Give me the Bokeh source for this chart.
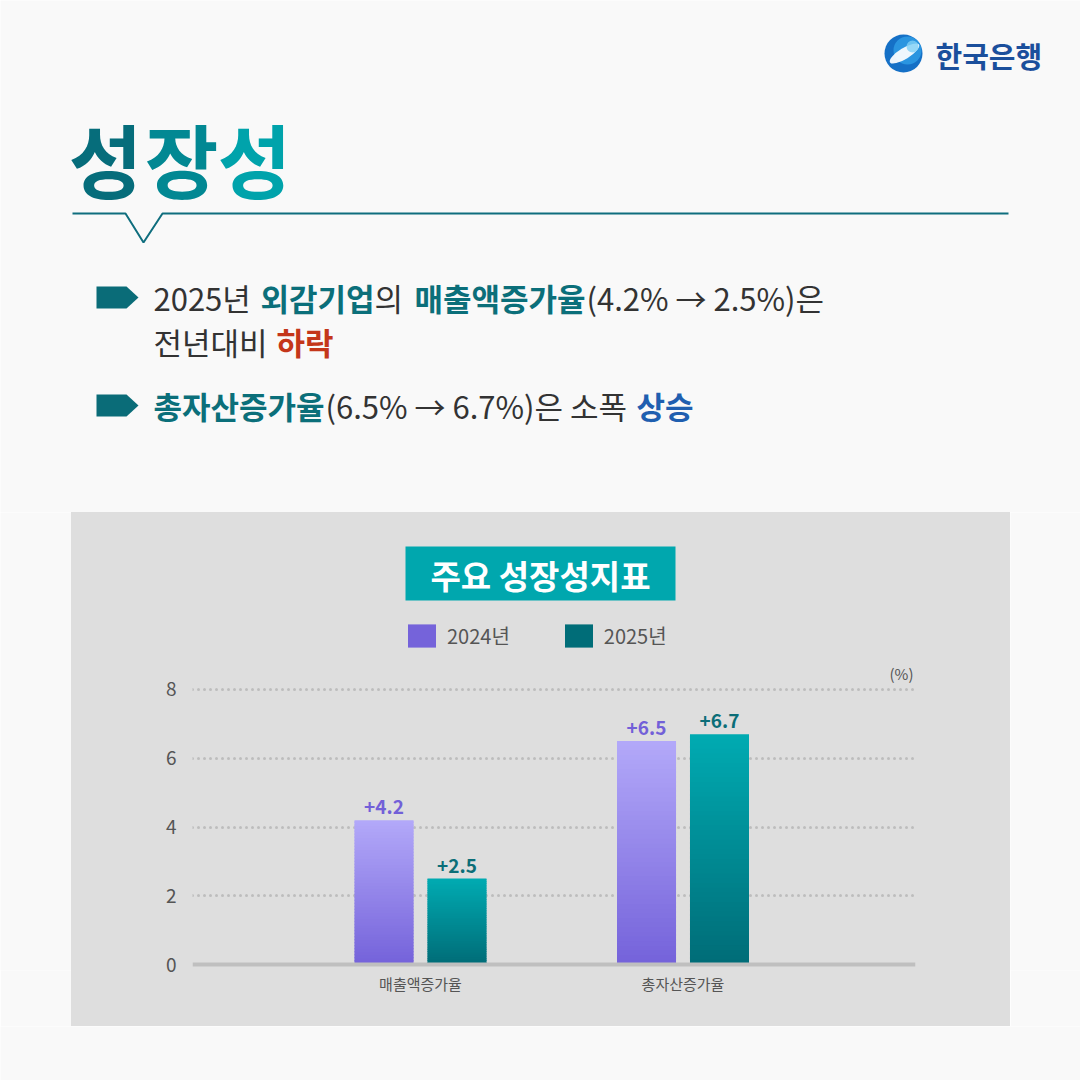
import numpy as np
from bokeh.plotting import figure
from bokeh.layouts import column, row
from bokeh.models import Range1d, FixedTicker, Span, Legend, LegendItem
from bokeh.core.properties import value
from bokeh.embed import file_html
from bokeh.resources import INLINE
from bokeh.core.validation import silence
from bokeh.core.validation.warnings import MISSING_RENDERERS

silence(MISSING_RENDERERS, True)

# ---------------- data ----------------
categories = ["매출액증가율", "총자산증가율"]
series_names = ["2024년", "2025년"]
values_2024 = [4.2, 6.5]
values_2025 = [2.5, 6.7]
labels_2024 = ["+4.2", "+6.5"]
labels_2025 = ["+2.5", "+6.7"]
y_ticks = [0, 2, 4, 6, 8]

FONT = "Noto Sans CJK KR"
PAGE = "#f9f9f9"
PANEL = "#dedede"
DARK = "#333333"
TEAL_TXT = "#0b6f7a"
RED = "#c4361a"
BLUE = "#1f5fb0"
AXIS_TXT = "#555555"


def blank(w, h, xr, yr, bg):
    f = figure(width=w, height=h, x_range=xr, y_range=yr, output_backend="svg",
               toolbar_location=None, min_border=0)
    f.axis.visible = False
    f.grid.visible = False
    f.outline_line_color = None
    f.background_fill_color = bg
    f.border_fill_color = bg
    return f


# ---------------- header ----------------
h = blank(1080, 512, Range1d(0, 1080), Range1d(512, 0), PAGE)

# logo
h.circle(x=[903], y=[53], radius=19, fill_color="#1570c6", line_color=None)
h.circle(x=[907], y=[50], radius=14, fill_color="#2a95e0", line_color=None)
h.ellipse(x=[904], y=[53], width=34, height=11, angle=0.55, fill_color="white",
          fill_alpha=0.92, line_color=None)
h.circle(x=[912], y=[46], radius=6, fill_color="#7fd0f5", fill_alpha=0.8, line_color=None)
h.text(x=[935], y=[54], text=["한국은행"], text_font=value(FONT), text_font_size="29px",
       text_font_style="bold", text_color="#1b4f9c", text_align="left", text_baseline="middle")

# title with stepped gradient colours
for ch, cx, col in [("성", 105, "#066d7b"), ("장", 181, "#028893"), ("성", 254, "#00a3ab")]:
    h.text(x=[cx], y=[156], text=[ch], text_font=value(FONT), text_font_size="80px",
           text_font_style="bold", text_color=col, text_align="center", text_baseline="middle")

# divider line with notch
h.line(x=[72, 125, 143, 162, 1008], y=[213, 213, 242, 213, 213], line_color="#0f6e7e",
       line_width=2)

# bullets
h.patches(xs=[[96, 126, 138, 126, 96], [96, 126, 138, 126, 96]],
          ys=[[286, 286, 297, 308, 308], [394, 394, 405, 416, 416]],
          fill_color="#0a6c78", line_color=None)

segments = [
    ("2025년", 153, 297, DARK, "normal"),
    ("외감기업", 260, 297, TEAL_TXT, "bold"),
    ("의", 374, 297, DARK, "normal"),
    ("매출액증가율", 414, 297, TEAL_TXT, "bold"),
    ("(4.2% → 2.5%)은", 586, 297, DARK, "normal"),
    ("전년대비", 153, 341, DARK, "normal"),
    ("하락", 276, 341, RED, "bold"),
    ("총자산증가율", 153, 405, TEAL_TXT, "bold"),
    ("(6.5% → 6.7%)은 소폭", 325, 405, DARK, "normal"),
    ("상승", 636, 405, BLUE, "bold"),
]
for t, x, y, c, s in segments:
    h.text(x=[x], y=[y], text=[t], text_font=value(FONT), text_font_size="31px",
           text_font_style=s, text_color=c, text_align="left", text_baseline="middle")

# ---------------- chart ----------------
p = figure(width=939, height=514, x_range=Range1d(-0.3686, 2.3857),
           y_range=Range1d(-0.1745, 13.149), output_backend="svg", toolbar_location=None,
           min_border_left=121, min_border_right=95, min_border_top=0, min_border_bottom=56)
p.extra_x_ranges = {"px": Range1d(192, 915)}
p.extra_y_ranges = {"py": Range1d(970, 512)}
p.background_fill_alpha = 0
p.border_fill_alpha = 0
p.styles = {"background-color": PANEL}
p.outline_line_color = None

p.yaxis.ticker = FixedTicker(ticks=y_ticks)
p.yaxis.axis_line_color = None
p.yaxis.major_tick_line_color = None
p.yaxis.minor_tick_line_color = None
p.yaxis.major_tick_out = 0
p.yaxis.major_label_standoff = 16
p.yaxis.major_label_text_font = FONT
p.yaxis.major_label_text_font_size = "19px"
p.yaxis.major_label_text_color = AXIS_TXT

p.xaxis.ticker = FixedTicker(ticks=[i + 0.5 for i in range(len(categories))])
p.xaxis.major_label_overrides = {i + 0.5: c for i, c in enumerate(categories)}
p.xaxis.axis_line_color = None
p.xaxis.major_tick_line_color = None
p.xaxis.minor_tick_line_color = None
p.xaxis.major_tick_out = 0
p.xaxis.major_label_standoff = 2
p.xaxis.major_label_text_font = FONT
p.xaxis.major_label_text_font_size = "15px"
p.xaxis.major_label_text_color = AXIS_TXT

p.xgrid.visible = False
p.ygrid.ticker = FixedTicker(ticks=[t for t in y_ticks if t > 0])
p.ygrid.grid_line_color = "#bdbdbd"
p.ygrid.grid_line_width = 3
p.ygrid.grid_line_dash = "0 6"
p.ygrid.grid_line_cap = "round"

# title box & text
p.quad(left=[405], right=[675], top=[546], bottom=[600], fill_color="#00a7ae", line_color=None,
       x_range_name="px", y_range_name="py")
p.text(x=[540], y=[574], text=["주요 성장성지표"], text_font=value(FONT), text_font_size="33px",
       text_font_style="bold", text_color="white", text_align="center", text_baseline="middle",
       x_range_name="px", y_range_name="py")
p.text(x=[913], y=[673], text=["(%)"], text_font=value(FONT), text_font_size="15px",
       text_color=AXIS_TXT, text_align="right", text_baseline="middle",
       x_range_name="px", y_range_name="py")


def mix(c1, c2, t):
    a = np.array([int(c1[i:i + 2], 16) for i in (1, 3, 5)])
    b = np.array([int(c2[i:i + 2], 16) for i in (1, 3, 5)])
    c = (a + (b - a) * t).round().astype(int)
    return "#%02x%02x%02x" % tuple(c)


OFF = 0.139
BW = 0.2248
N = 48
renderers = []
for vals, off, c_bot, c_top in [(values_2024, -OFF, "#7462da", "#b3a9f9"),
                                (values_2025, OFF, "#006c77", "#00abb2")]:
    xs, bots, tops, cols = [], [], [], []
    for i, v in enumerate(vals):
        for k in range(N):
            xs.append(i + 0.5 + off)
            bots.append(v * k / N)
            tops.append(min(v, v * (k + 1.6) / N))
            cols.append(mix(c_bot, c_top, (k + 0.5) / N))
    r = p.vbar(x=xs, bottom=bots, top=tops, width=BW, fill_color=cols, line_color=None)
    renderers.append(r)

p.add_layout(Span(location=0, dimension="width", line_color="#bfbfbf", line_width=4))

for vals, labs, off, col in [(values_2024, labels_2024, -OFF, "#7260d8"),
                             (values_2025, labels_2025, OFF, "#0b6e78")]:
    p.text(x=[i + 0.5 + off for i in range(len(vals))], y=vals, text=labs,
           text_font=value(FONT), text_font_size="19px", text_font_style="bold", text_color=col,
           text_align="center", text_baseline="bottom", y_offset=-6)

legend = Legend(items=[LegendItem(label=series_names[0], renderers=[renderers[0]], index=0),
                       LegendItem(label=series_names[1], renderers=[renderers[1]], index=0)],
                orientation="horizontal", location=(212, 320), glyph_width=35, glyph_height=29,
                label_standoff=8, spacing=51, padding=0, margin=0, border_line_color=None,
                background_fill_alpha=0, label_text_font=FONT, label_text_font_size="20px",
                label_text_color=AXIS_TXT, label_height=29)
p.add_layout(legend)

sl = blank(71, 514, Range1d(0, 1), Range1d(0, 1), PAGE)
sr = blank(70, 514, Range1d(0, 1), Range1d(0, 1), PAGE)
foot = blank(1080, 54, Range1d(0, 1), Range1d(0, 1), PAGE)

layout = column(h, row(sl, p, sr), foot)
open("out.html", "w").write(file_html(layout, INLINE))
